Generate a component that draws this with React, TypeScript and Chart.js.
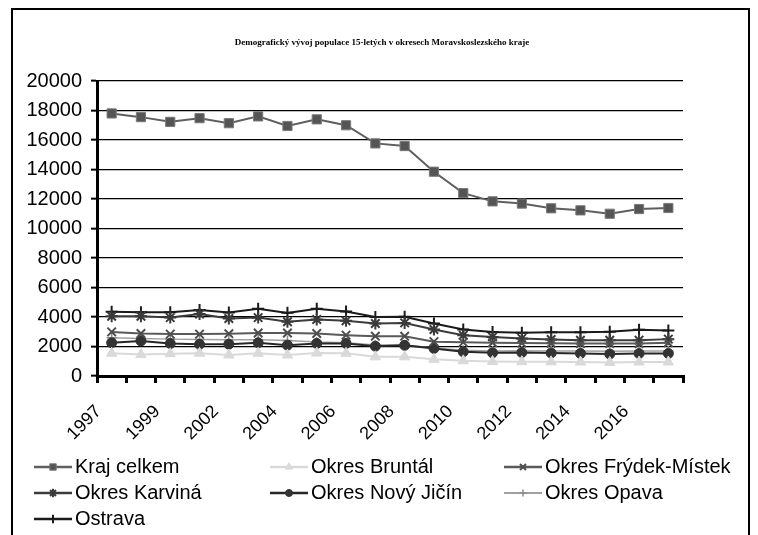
import React, { useEffect, useRef } from 'react';
import { Chart, registerables } from 'chart.js';
import { drawPoint } from 'chart.js/helpers';

Chart.register(...registerables);

const TITLE = 'Demografický vývoj populace 15-letých v okresech Moravskoslezského kraje';

const categories = [
  '1997', '1998', '1999', '2000', '2002', '2003', '2004', '2005', '2006', '2007',
  '2008', '2009', '2010', '2011', '2012', '2013', '2014', '2015', '2016', '2017',
];

const yTickMin = 0;
const yTickMax = 20000;
const yTickStep = 2000;

const krajCelkem = [17800, 17550, 17230, 17480, 17140, 17600, 16950, 17400, 17000, 15770, 15590, 13850, 12400, 11840, 11690, 11370, 11230, 11000, 11320, 11390];
const okresBruntal = [1540, 1450, 1510, 1540, 1420, 1540, 1420, 1560, 1540, 1300, 1300, 1130, 1030, 980, 970, 960, 950, 920, 950, 950];
const okresFrydekMistek = [2990, 2880, 2840, 2840, 2870, 2920, 2920, 2880, 2770, 2700, 2700, 2330, 2280, 2250, 2230, 2220, 2200, 2200, 2200, 2250];
const okresKarvina = [4050, 4050, 3960, 4200, 3900, 3960, 3680, 3830, 3740, 3560, 3600, 3150, 2760, 2650, 2550, 2470, 2420, 2420, 2430, 2500];
const okresNovyJicin = [2250, 2380, 2200, 2150, 2160, 2250, 2090, 2210, 2210, 2020, 2080, 1870, 1640, 1570, 1590, 1560, 1530, 1490, 1520, 1530];
const okresOpava = [2600, 2550, 2500, 2480, 2450, 2450, 2400, 2300, 2250, 2100, 2100, 1900, 1750, 1700, 1720, 1700, 1700, 1680, 1700, 1700];
const ostrava = [4350, 4330, 4330, 4480, 4300, 4560, 4280, 4560, 4380, 4000, 4020, 3560, 3150, 2990, 2930, 2960, 2960, 3000, 3140, 3090];

const SANS = '"Liberation Sans", Arial, sans-serif';

function ds(label: string, data: number[], line: string, lineW: number, style: string, r: number, bg: string, bd: string, bdW: number) {
  return {
    label,
    data,
    borderColor: line,
    borderWidth: lineW,
    pointStyle: style,
    pointRadius: r,
    pointHoverRadius: r,
    pointBackgroundColor: bg,
    pointBorderColor: bd,
    pointBorderWidth: bdW,
    fill: false,
    tension: 0,
  };
}

const LEGEND_COL_X = [34, 270, 504];
const LEGEND_ROW_Y = [467, 493, 519];

const framePlugin = {
  id: 'frame',
  beforeDraw(chart: any) {
    const ctx = chart.ctx;
    ctx.save();
    ctx.strokeStyle = '#000';
    ctx.lineWidth = 2;
    ctx.strokeRect(12, 9, 737, 600);
    ctx.restore();
  },
};

const gridLegendPlugin = {
  id: 'gridLegend',
  afterDraw(chart: any) {
    const ctx = chart.ctx;
    ctx.save();
    chart.data.datasets.forEach((d: any, i: number) => {
      const col = i % 3;
      const row = Math.floor(i / 3);
      const x0 = LEGEND_COL_X[col];
      const y = LEGEND_ROW_Y[row];
      ctx.strokeStyle = d.borderColor;
      ctx.lineWidth = d.borderWidth + 0.5;
      ctx.beginPath();
      ctx.moveTo(x0, y);
      ctx.lineTo(x0 + 38, y);
      ctx.stroke();
      ctx.fillStyle = d.pointBackgroundColor;
      ctx.strokeStyle = d.pointBorderColor;
      ctx.lineWidth = d.pointBorderWidth;
      drawPoint(ctx, { pointStyle: d.pointStyle, radius: d.pointRadius * 0.7, rotation: 0, borderWidth: d.pointBorderWidth }, x0 + 19, y);
      ctx.fillStyle = '#000';
      ctx.font = '20px ' + SANS;
      ctx.textBaseline = 'middle';
      ctx.textAlign = 'left';
      ctx.fillText(d.label, x0 + 41, y);
    });
    ctx.restore();
  },
};

export default function App() {
  const ref = useRef<HTMLCanvasElement | null>(null);
  useEffect(() => {
    if (!ref.current) return;
    const chart = new Chart(ref.current, {
      type: 'line',
      data: {
        labels: categories,
        datasets: [
          ds('Kraj celkem', krajCelkem, '#5f5f5f', 2, 'rect', 6.5, '#555555', '#7a7a7a', 1),
          ds('Okres Bruntál', okresBruntal, '#d9d9d9', 2, 'triangle', 6, '#d9d9d9', '#d9d9d9', 1),
          ds('Okres Frýdek-Místek', okresFrydekMistek, '#5a5a5a', 2, 'crossRot', 6, '#4d4d4d', '#4d4d4d', 2),
          ds('Okres Karviná', okresKarvina, '#3c3c3c', 2, 'star', 6, '#3a3a3a', '#3a3a3a', 2),
          ds('Okres Nový Jičín', okresNovyJicin, '#262626', 2, 'circle', 5, '#333333', '#333333', 1),
          ds('Okres Opava', okresOpava, '#a0a0a0', 1.5, 'cross', 5, '#8c8c8c', '#8c8c8c', 1.5),
          ds('Ostrava', ostrava, '#1a1a1a', 2, 'cross', 6, '#1a1a1a', '#1a1a1a', 2),
        ],
      },
      options: {
        responsive: false,
        animation: false,
        layout: { padding: { left: 6, right: 0, top: 0, bottom: 0 } },
        plugins: {
          legend: { display: false },
          tooltip: { enabled: false },
          title: {
            display: true,
            text: TITLE,
            color: '#000',
            font: { family: '"Liberation Serif", "Times New Roman", serif', size: 9, weight: 'bold', lineHeight: 1.2 },
            padding: { top: 37.6, bottom: 32.6 },
          },
        },
        scales: {
          x: {
            type: 'category',
            offset: true,
            grid: {
              display: true,
              drawOnChartArea: false,
              drawTicks: true,
              tickLength: 7,
              offset: true,
              color: '#000',
              lineWidth: 3,
            },
            border: { display: true, color: '#000', width: 3 },
            ticks: {
              autoSkip: false,
              maxRotation: 45,
              minRotation: 45,
              labelOffset: -13,
              padding: 18,
              color: '#000',
              font: { family: SANS, size: 18 },
              callback: (_v: any, i: number) => (i % 2 === 0 ? categories[i] : ''),
            },
            afterFit: (s: any) => { s.height = 159; },
          },
          y: {
            type: 'linear',
            position: 'left',
            min: yTickMin,
            max: yTickMax,
            grid: {
              color: '#000',
              lineWidth: 1.3,
              tickLength: 6,
              tickWidth: 2,
              tickColor: '#000',
            },
            border: { display: true, color: '#000', width: 3 },
            ticks: {
              stepSize: yTickStep,
              padding: 9,
              color: '#000',
              font: { family: SANS, size: 20 },
              callback: (v: any) => String(v),
            },
            afterFit: (s: any) => { s.width = 91; },
          },
          yR: {
            type: 'linear',
            position: 'right',
            display: true,
            min: yTickMin,
            max: yTickMax,
            grid: { display: false, drawTicks: false },
            border: { display: false },
            ticks: { display: false },
            afterFit: (s: any) => { s.width = 75; },
          },
        },
      },
      plugins: [framePlugin, gridLegendPlugin],
    } as any);
    return () => chart.destroy();
  }, []);
  return (
    <canvas
      ref={ref}
      width={758}
      height={535}
      style={{ position: 'absolute', left: 0, top: 0, display: 'block', width: 758, height: 535 }}
    />
  );
}
